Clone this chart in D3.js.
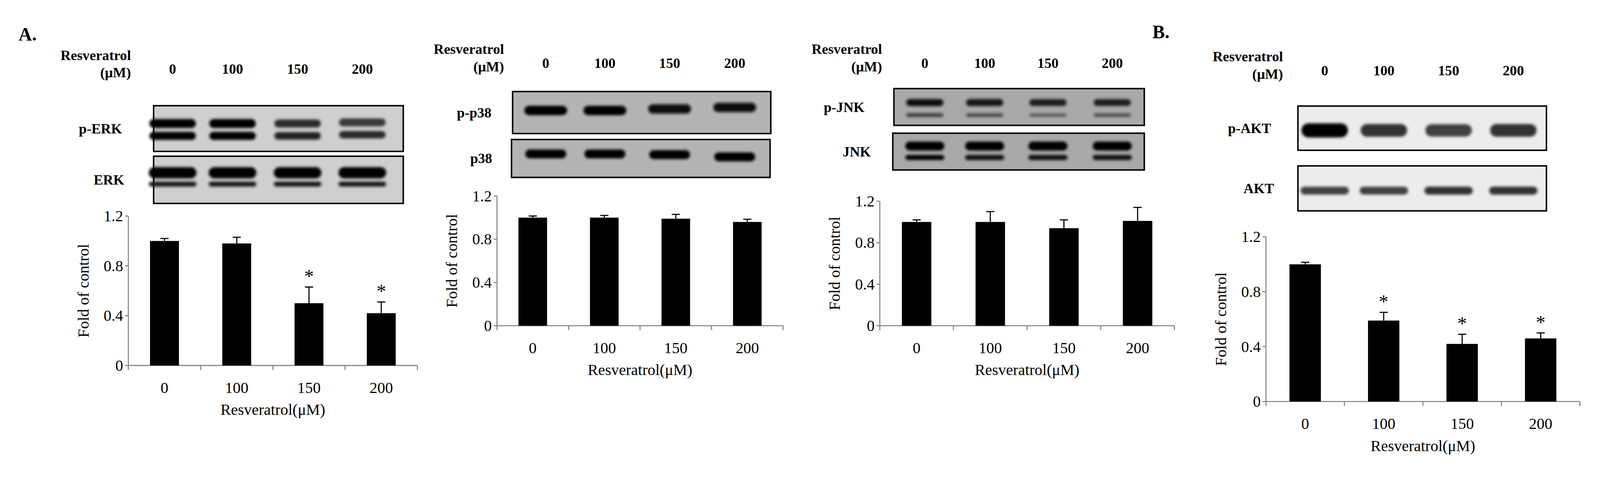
<!DOCTYPE html>
<html><head><meta charset="utf-8">
<script src="https://cdn.jsdelivr.net/npm/d3@7"></script>
<style>html,body{margin:0;padding:0;background:#fff;overflow:hidden;width:100%;height:100%}svg{display:block;width:100vw;height:100vh}</style></head>
<body><svg id="c" viewBox="0 0 4301 1253" preserveAspectRatio="xMidYMid meet"></svg>
<script>
const categories = ["0","100","150","200"];
const erkValues = [1.0, 0.98, 0.50, 0.42];
const erkErrors = [0.02, 0.05, 0.13, 0.09];
const erkSig = [false, false, true, true];
const p38Values = [1.0, 1.0, 0.99, 0.96];
const p38Errors = [0.015, 0.02, 0.04, 0.025];
const p38Sig = [false, false, false, false];
const jnkValues = [1.0, 1.0, 0.94, 1.01];
const jnkErrors = [0.02, 0.10, 0.08, 0.13];
const jnkSig = [false, false, false, false];
const aktValues = [1.0, 0.59, 0.42, 0.46];
const aktErrors = [0.015, 0.06, 0.07, 0.04];
const aktSig = [false, true, true, true];
const yTicks = [0, 0.4, 0.8, 1.2];
const yTickLabels = ["0", "0.4", "0.8", "1.2"];
// band intensities (0..1) per lane
const pERKbands = [[1,1,0.75,0.7],[1,1,0.8,0.75]];
const ERKbands = [[1,1,1,1],[0.85,0.85,0.85,0.85]];
const pP38bands = [[0.95,0.95,0.9,0.9]];
const P38bands = [[1,1,1,1]];
const pJNKbands = [[0.9,0.85,0.8,0.8],[0.6,0.55,0.45,0.5]];
const JNKbands = [[1,1,1,1],[0.95,0.9,0.9,0.9]];
const pAKTbands = [[1,0.75,0.7,0.75]];
const AKTbands = [[0.7,0.7,0.75,0.75]];

const svg = d3.select("#c");
const defs = svg.append("defs");
defs.append("filter").attr("id","blur").attr("x","-20%").attr("y","-100%").attr("width","140%").attr("height","300%")
  .append("feGaussianBlur").attr("stdDeviation","4");
const serif = "Liberation Serif, Times New Roman, serif";

svg.append("text").attr("x",50).attr("y",78).attr("font-family",serif).attr("font-weight","bold").attr("font-size",50).text("A.");
svg.append("text").attr("x",3098).attr("y",72).attr("font-family",serif).attr("font-weight","bold").attr("font-size",50).text("B.");

function panel(o){
  const g = svg.append("g");
  g.append("text").attr("x",o.resX).attr("y",o.resY).attr("text-anchor","end").attr("font-family",serif).attr("font-weight","bold").attr("font-size",38).text("Resveratrol");
  g.append("text").attr("x",o.resX).attr("y",o.resY+47).attr("text-anchor","end").attr("font-family",serif).attr("font-weight","bold").attr("font-size",38).text("(\u03bcM)");
  o.laneX.forEach((x,i)=>g.append("text").attr("x",x).attr("y",o.resY+37).attr("text-anchor","middle").attr("font-family",serif).attr("font-weight","bold").attr("font-size",38).text(categories[i]));
  o.blots.forEach(b=>{
    g.append("rect").attr("x",b.x0).attr("y",b.y0).attr("width",b.x1-b.x0).attr("height",b.y1-b.y0).attr("fill",o.bg).attr("stroke","#000").attr("stroke-width",4);
    g.append("text").attr("x",b.labelX).attr("y",(b.y0+b.y1)/2+13).attr("text-anchor","end").attr("font-family",serif).attr("font-weight","bold").attr("font-size",38).text(b.label);
    b.bands.forEach((row,ri)=>{
      row.forEach((v,li)=>{
        const cy = b.y0 + (b.y1-b.y0)*b.rows[ri] + (b.tilt? b.tilt[li]:0);
        const h = b.h[ri]*(0.6+0.4*v);
        g.append("rect").attr("x",o.laneX[li]-b.w/2).attr("y",cy-h/2).attr("width",b.w).attr("height",h).attr("rx",h/2)
          .attr("fill",d3.interpolateRgb(o.bg,"#000")(Math.min(1,v*1.05))).attr("filter","url(#blur)");
      });
    });
  });
  const x = d3.scaleBand().domain(categories).range([o.ax0,o.ax1]).paddingInner(0.6).paddingOuter(0.3);
  const y = d3.scaleLinear().domain([0,1.2]).range([o.y0,o.y12]);
  const band = d3.scaleBand().domain(categories).range([o.ax0,o.ax1]);
  g.append("line").attr("x1",o.ax0).attr("x2",o.ax0).attr("y1",y(0)).attr("y2",y(1.2)).attr("stroke","#8a8a8a").attr("stroke-width",3);
  g.append("line").attr("x1",o.ax0).attr("x2",o.ax1).attr("y1",y(0)).attr("y2",y(0)).attr("stroke","#8a8a8a").attr("stroke-width",3);
  yTicks.forEach((t,i)=>{
    g.append("line").attr("x1",o.ax0-9).attr("x2",o.ax0).attr("y1",y(t)).attr("y2",y(t)).attr("stroke","#8a8a8a").attr("stroke-width",3);
    g.append("text").attr("x",o.ax0-14).attr("y",y(t)+14).attr("text-anchor","end").attr("font-family",serif).attr("font-size",42).text(yTickLabels[i]);
  });
  categories.forEach((c,i)=>{
    const bx = band(c);
    g.append("line").attr("x1",bx).attr("x2",bx).attr("y1",y(0)).attr("y2",y(0)+12).attr("stroke","#8a8a8a").attr("stroke-width",3);
    if(i===categories.length-1) g.append("line").attr("x1",o.ax1).attr("x2",o.ax1).attr("y1",y(0)).attr("y2",y(0)+12).attr("stroke","#8a8a8a").attr("stroke-width",3);
    const cx = x(c)+x.bandwidth()/2;
    g.append("text").attr("x",cx).attr("y",y(0)+74).attr("text-anchor","middle").attr("font-family",serif).attr("font-size",42).text(c);
    const v=o.values[i], e=o.errors[i];
    g.append("rect").attr("x",x(c)).attr("y",y(v)).attr("width",x.bandwidth()).attr("height",y(0)-y(v)).attr("fill","#000");
    g.append("line").attr("x1",cx).attr("x2",cx).attr("y1",y(v)).attr("y2",y(v+e)).attr("stroke","#000").attr("stroke-width",3);
    g.append("line").attr("x1",cx-11).attr("x2",cx+11).attr("y1",y(v+e)).attr("y2",y(v+e)).attr("stroke","#000").attr("stroke-width",3);
    if(o.sig[i]) g.append("text").attr("x",cx).attr("y",y(v+e)-12).attr("text-anchor","middle").attr("font-family",serif).attr("font-size",52).text("*");
  });
  g.append("text").attr("x",(o.ax0+o.ax1)/2).attr("y",y(0)+133).attr("text-anchor","middle").attr("font-family",serif).attr("font-size",42).text("Resveratrol(\u03bcM)");
  g.append("text").attr("transform",`translate(${o.ax0-107},${(y(0)+y(1.2))/2}) rotate(-90)`).attr("text-anchor","middle").attr("font-family",serif).attr("font-size",42).text("Fold of control");
}

panel({resX:352,resY:130,laneX:[464,625,800,974],bg:"#cfcfcf",
  blots:[{x0:413,x1:1084,y0:253,y1:376,label:"p-ERK",labelX:328,bands:pERKbands,rows:[0.39,0.66],h:[24,22],w:125,tilt:[0,0,0,-3]},
         {x0:413,x1:1084,y0:389,y1:516,label:"ERK",labelX:334,bands:ERKbands,rows:[0.35,0.59],h:[30,14],w:128}],
  ax0:345,ax1:1122,y0:952,y12:550,values:erkValues,errors:erkErrors,sig:erkSig});
panel({resX:1355,resY:114,laneX:[1467,1626,1800,1975],bg:"#b4b4b4",
  blots:[{x0:1378,x1:2072,y0:215,y1:328,label:"p-p38",labelX:1321,bands:pP38bands,rows:[0.45],h:[26],w:115,tilt:[0,0,-4,-8]},
         {x0:1375,x1:2070,y0:344,y1:446,label:"p38",labelX:1323,bands:P38bands,rows:[0.38],h:[24],w:110,tilt:[0,0,2,8]}],
  ax0:1336,ax1:2105,y0:845,y12:496,values:p38Values,errors:p38Errors,sig:p38Sig});
panel({resX:2371,resY:114,laneX:[2486,2647,2817,2990],bg:"#a9a9a9",
  blots:[{x0:2403,x1:3076,y0:207,y1:306,label:"p-JNK",labelX:2324,bands:pJNKbands,rows:[0.38,0.72],h:[20,12],w:100},
         {x0:2400,x1:3076,y0:327,y1:426,label:"JNK",labelX:2341,bands:JNKbands,rows:[0.35,0.66],h:[24,14],w:105}],
  ax0:2365,ax1:3157,y0:845,y12:510,values:jnkValues,errors:jnkErrors,sig:jnkSig});
panel({resX:3449,resY:134,laneX:[3561,3720,3894,4068],bg:"#ececec",
  blots:[{x0:3489,x1:4157,y0:254,y1:373,label:"p-AKT",labelX:3417,bands:pAKTbands,rows:[0.55],h:[38],w:125},
         {x0:3489,x1:4157,y0:415,y1:536,label:"AKT",labelX:3425,bands:AKTbands,rows:[0.55],h:[24],w:130}],
  ax0:3403,ax1:4247,y0:1049,y12:606,values:aktValues,errors:aktErrors,sig:aktSig});
</script></body></html>
